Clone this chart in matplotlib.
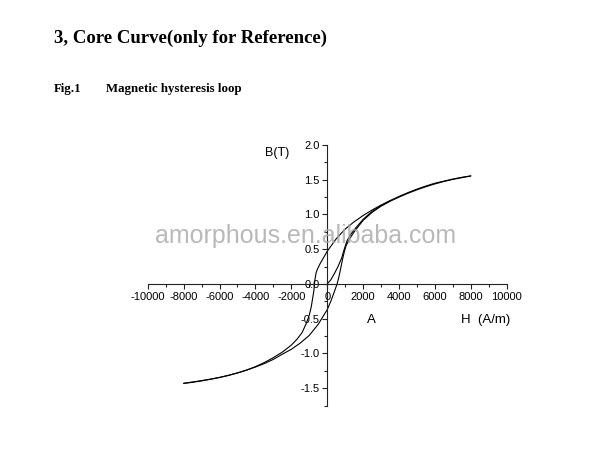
"""Core curve: magnetic hysteresis loop, redrawn from the datasheet figure."""

import matplotlib

matplotlib.use("Agg")
import matplotlib.pyplot as plt
from matplotlib.ticker import MultipleLocator

# descending branch (from +saturation)
h_down = [8000, 7500, 7000, 6500, 6000, 5500, 5000, 4500, 4000, 3500, 3000,
          2500, 2000, 1500, 1000, 500, 0, -200, -400, -550, -620, -690, -740,
          -800, -890, -1000, -1170, -1400, -1700, -2000, -2500, -3000, -3500,
          -4000, -4500, -5000, -5500, -6000, -6500, -7000, -7500, -8000]
b_down = [1.555, 1.535, 1.51, 1.48, 1.45, 1.41, 1.365, 1.315, 1.26, 1.20,
          1.135, 1.065, 0.985, 0.895, 0.79, 0.65, 0.47, 0.38, 0.29, 0.21,
          0.16, 0.05, -0.09, -0.19, -0.33, -0.45, -0.57, -0.70, -0.80, -0.88,
          -0.98, -1.06, -1.13, -1.19, -1.24, -1.28, -1.315, -1.345, -1.37,
          -1.39, -1.41, -1.43]

# ascending branch (from -saturation)
h_up = [-8000, -7500, -7000, -6500, -6000, -5500, -5000, -4500, -4000, -3500,
        -3000, -2500, -2000, -1500, -1000, -500, 0, 200, 400, 550, 650, 750,
        850, 950, 1050, 1250, 1500, 2000, 2500, 3000, 3500, 4000, 4500, 5000,
        5500, 6000, 6500, 7000, 7500, 8000]
b_up = [-1.43, -1.415, -1.395, -1.37, -1.345, -1.315, -1.28, -1.24, -1.195,
        -1.145, -1.085, -1.01, -0.94, -0.85, -0.74, -0.58, -0.37, -0.25,
        -0.11, 0.0, 0.10, 0.22, 0.35, 0.46, 0.55, 0.65, 0.75, 0.915, 1.03,
        1.12, 1.19, 1.25, 1.305, 1.355, 1.40, 1.44, 1.475, 1.505, 1.53, 1.555]

# initial magnetisation curve
h_init = [0, 200, 400, 600, 800, 950, 1100, 1300, 1600, 2000, 2500, 3000, 3500]
b_init = [0.0, 0.06, 0.15, 0.25, 0.37, 0.50, 0.62, 0.71, 0.81, 0.93, 1.045,
          1.125, 1.195]

W, H = 612, 471
fig = plt.figure(figsize=(W / 100, H / 100), dpi=100)
serif = "Liberation Serif"
sans = "Liberation Sans"

fig.text(54 / W, 1 - 43 / H, "3, Core Curve(only for Reference)",
         family=serif, weight="bold", size=13.5, va="baseline")
fig.text(54 / W, 1 - 92 / H, "Fig.1", family=serif, weight="bold",
         size=9.3, va="baseline")
fig.text(106 / W, 1 - 92 / H, "Magnetic hysteresis loop", family=serif,
         weight="bold", size=9.3, va="baseline")

ax = fig.add_axes([147.7 / W, 1 - 405.6 / H, 359 / W, 260.6 / H])
ax.set_xlim(-10000, 10000)
ax.set_ylim(-1.75, 2.0)

for h, b in ((h_down, b_down), (h_up, b_up), (h_init, b_init)):
    ax.plot(h, b, color="black", lw=0.8, solid_joinstyle="round",
            solid_capstyle="round")

for side in ("top", "right"):
    ax.spines[side].set_visible(False)
ax.spines["left"].set_position(("data", 0))
ax.spines["bottom"].set_position(("data", 0))
for side in ("left", "bottom"):
    ax.spines[side].set_linewidth(0.8)
    ax.spines[side].set_color("#222222")

ax.xaxis.set_minor_locator(MultipleLocator(1000))
ax.yaxis.set_minor_locator(MultipleLocator(0.25))
ax.set_xticks(range(-10000, 10001, 2000))
ax.set_xticklabels([str(v) for v in range(-10000, 10001, 2000)])
ax.set_yticks([-1.5, -1.0, -0.5, 0.0, 0.5, 1.0, 1.5, 2.0])
ax.set_yticklabels(["-1.5", "-1.0", "-0.5", "0.0", "0.5", "1.0", "1.5", "2.0"])
ax.tick_params(which="major", direction="out", length=3.6, width=0.8,
               labelsize=8, pad=2, color="#222222")
ax.tick_params(which="minor", direction="out", length=2.2, width=0.8,
               color="#222222")
for lab in ax.get_xticklabels() + ax.get_yticklabels():
    lab.set_family(sans)

ax.text(-2800, 1.885, "B(T)", family=sans, size=9, ha="center", va="center")
ax.text(2460, -0.52, "A", family=sans, size=9.5, ha="center", va="center")
ax.text(8800, -0.52, "H  (A/m)", family=sans, size=9.5, ha="center",
        va="center", clip_on=False)

fig.text(306 / W, 1 - 243 / H, "amorphous.en.alibaba.com", family=sans,
         size=18, color="#a8a8a8", alpha=0.8, ha="center", va="baseline",
         zorder=10)

fig.savefig("out.png", dpi=100)
